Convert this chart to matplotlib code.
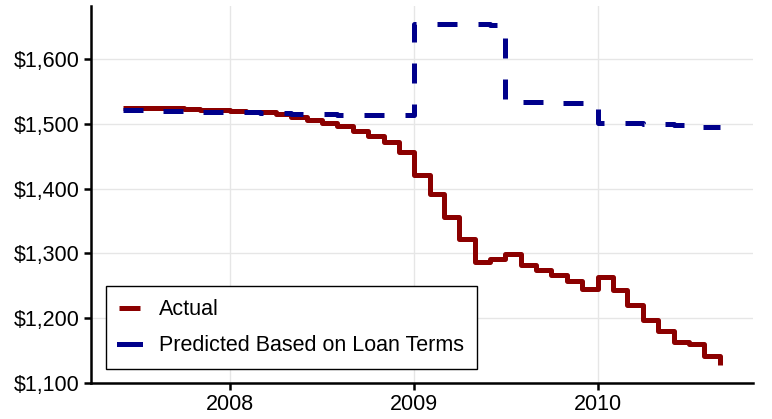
import pandas as pd
import matplotlib
matplotlib.use('Agg')
import matplotlib.pyplot as plt
import matplotlib.dates as mdates
import matplotlib.ticker as mtick

plt.rcParams['font.family'] = ['Liberation Sans', 'DejaVu Sans']
plt.rcParams['font.size'] = 15.5

# Monthly payments, June 2007 to September 2010
months = pd.date_range('2007-06-01', '2010-09-01', freq='MS')

actual = [1525, 1525, 1524, 1524, 1523, 1522, 1521,
          1520, 1519, 1518, 1515, 1511, 1506, 1501, 1496, 1489, 1482, 1472, 1456,
          1421, 1392, 1357, 1322, 1287, 1292, 1299, 1282, 1274, 1267, 1257, 1245,
          1264, 1243, 1220, 1197, 1181, 1164, 1160, 1141, 1128]

predicted = [1521, 1521, 1520, 1520, 1520, 1519, 1519,
             1518, 1518, 1517, 1517, 1516, 1516, 1515, 1514, 1514, 1513, 1513, 1513,
             1654, 1654, 1654, 1654, 1654, 1653, 1534, 1534, 1534, 1533, 1533, 1533,
             1501, 1501, 1501, 1500, 1500, 1499, 1495, 1495, 1495]

yticks = [1100, 1200, 1300, 1400, 1500, 1600]

fig = plt.figure(figsize=(7.72, 4.19), dpi=100)
ax = fig.add_axes([0.1179, 0.0859, 0.8575, 0.8998])

ax.step(months, actual, where='post', color='#8b0000', lw=3.6,
        label='Actual', solid_capstyle='butt')
ax.step(months, predicted, where='post', color='#00008b', lw=3.6,
        linestyle=(0, (4, 4.2)), dash_capstyle='butt',
        label='Predicted Based on Loan Terms')

ax.set_xlim(pd.Timestamp('2007-03-30'), pd.Timestamp('2010-11-06'))
ax.set_ylim(1100, 1682)
ax.set_yticks(yticks)
ax.yaxis.set_major_formatter(mtick.FuncFormatter(lambda v, p: '${:,.0f}'.format(v)))
ax.xaxis.set_major_locator(mdates.YearLocator())
ax.xaxis.set_major_formatter(mdates.DateFormatter('%Y'))

ax.grid(True, color='#e6e6e6', lw=1)
ax.set_axisbelow(True)
for s in ['top', 'right']:
    ax.spines[s].set_visible(False)
for s in ['left', 'bottom']:
    ax.spines[s].set_linewidth(1.8)
ax.tick_params(direction='out', length=5, width=1.8, colors='black', pad=3)

leg = ax.legend(loc='lower left', bbox_to_anchor=(0.0227, 0.037), frameon=True,
                fancybox=False, edgecolor='black', framealpha=1,
                handlelength=1.0, handletextpad=0.85, borderpad=0.6,
                labelspacing=0.7, borderaxespad=0)
leg.get_frame().set_linewidth(1.0)
# legend keys drawn as solid short lines
for h in leg.get_lines():
    h.set_linestyle('-')

plt.savefig('out.png', dpi=100)
